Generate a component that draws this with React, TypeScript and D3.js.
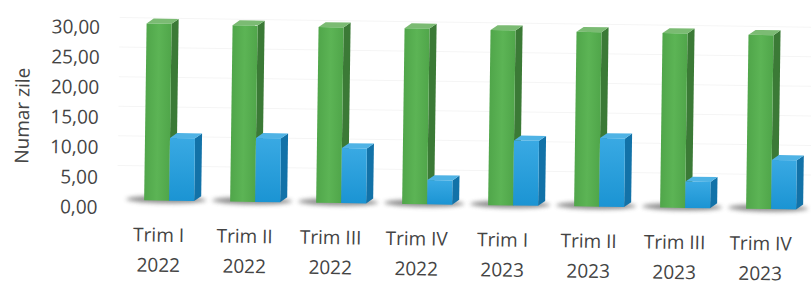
import React from 'react';
import * as d3 from 'd3';

const quarters = ['Trim I', 'Trim II', 'Trim III', 'Trim IV', 'Trim I', 'Trim II', 'Trim III', 'Trim IV'];
const years = ['2022', '2022', '2022', '2022', '2023', '2023', '2023', '2023'];
const greenValues = [29.9, 29.8, 29.7, 29.7, 29.6, 29.5, 29.5, 29.4];
const blueValues = [10.6, 10.8, 9.3, 4.1, 11.0, 11.6, 4.45, 8.3];
const yTicks = [0, 5, 10, 15, 20, 25, 30];

const W = 811;
const H = 281;
const FONT = '"Open Sans", "DejaVu Sans", sans-serif';
const TXT = '#444444';

// depth of the fake 3d
const DX = 7;
const DY = 5;
const BAR_W = 25;

const green = { front: '#50a64a', side: '#3b7a36', top: '#7bbb73', frontLight: '#5cb455' };
const blue = { front: '#1b94d3', side: '#1272a8', top: '#4fb3e5', frontLight: '#39a9e3' };

const App: React.FC = () => {
  const keys = quarters.map((q, i) => `${q} ${years[i]}`);
  const x = d3.scaleBand<string>().domain(keys).range([124, 124 + 86 * keys.length]);
  const y = d3.scaleLinear().domain([0, 30]).range([204, 26.5]);
  // tick labels sit on the back wall, a bit lower than the bar scale
  const yLab = d3.scaleLinear().domain([0, 30]).range([211.5, 31.5]);
  const base = y(0);

  const bar = (x0: number, v: number, c: typeof green, key: string) => {
    const yt = y(v);
    const x1 = x0 + BAR_W;
    const side = `${x1},${yt} ${x1 + DX},${yt - DY} ${x1 + DX},${base - DY} ${x1},${base}`;
    const top = `${x0},${yt} ${x0 + DX},${yt - DY} ${x1 + DX},${yt - DY} ${x1},${yt}`;
    return (
      <g key={key}>
        <polygon points={side} fill={c.side} />
        <polygon points={top} fill={c.top} />
        <rect x={x0} y={yt} width={BAR_W} height={base - yt} fill={`url(#grad-${c === green ? 'g' : 'b'})`} />
      </g>
    );
  };

  return (
    <svg width={W} height={H} style={{ position: 'absolute', left: 0, top: 0, background: '#fff' }}>
      <defs>
        <linearGradient id="grad-g" x1="0" y1="0" x2="1" y2="0">
          <stop offset="0" stopColor={green.front} />
          <stop offset="0.5" stopColor={green.frontLight} />
          <stop offset="1" stopColor={green.front} />
        </linearGradient>
        <linearGradient id="grad-b" x1="0" y1="0" x2="0" y2="1">
          <stop offset="0" stopColor={blue.frontLight} />
          <stop offset="1" stopColor={blue.front} />
        </linearGradient>
        <filter id="blur" x="-20%" y="-200%" width="140%" height="500%">
          <feGaussianBlur stdDeviation="2.2" />
        </filter>
      </defs>
      <g transform="rotate(0.8, 405, 140)">
        {/* faint back wall grid */}
        {yTicks.slice(1).map((t) => (
          <line key={t} x1={118} x2={W + 5} y1={y(t) - DY} y2={y(t) - DY} stroke="#f5f5f5" strokeWidth={1} />
        ))}

        {/* floor shadows */}
        {keys.map((k) => {
          const gx = (x(k) as number) + 21;
          return (
            <ellipse
              key={'s' + k}
              cx={gx + 22}
              cy={base - 1}
              rx={40}
              ry={3.5}
              fill="#6f6f6f"
              opacity={0.8}
              filter="url(#blur)"
            />
          );
        })}

        {keys.map((k, i) => {
          const gx = (x(k) as number) + 21;
          return (
            <g key={k}>
              {bar(gx, greenValues[i], green, 'g' + i)}
              {bar(gx + BAR_W, blueValues[i], blue, 'b' + i)}
            </g>
          );
        })}

        {/* y axis labels */}
        {yTicks.map((t) => (
          <text
            key={'yl' + t}
            x={98.5}
            y={yLab(t)}
            dy="0.35em"
            textAnchor="end"
            fontFamily={FONT}
            fontSize={19}
            fill={TXT}
          >
            {d3.format('.2f')(t).replace('.', ',')}
          </text>
        ))}

        <text
          transform={`translate(22, 121) rotate(-90)`}
          textAnchor="middle"
          dy="0.35em"
          fontFamily={FONT}
          fontSize={19}
          fill={TXT}
        >
          Numar zile
        </text>

        {/* x axis labels */}
        {keys.map((k, i) => {
          const cx = (x(k) as number) + 36;
          return (
            <text key={'xl' + k} textAnchor="middle" fontFamily={FONT} fontSize={19} fill={TXT}>
              <tspan x={cx} y={238.5} dy="0.35em">{quarters[i]}</tspan>
              <tspan x={cx} y={268.5} dy="0.35em">{years[i]}</tspan>
            </text>
          );
        })}
      </g>
    </svg>
  );
};

export default App;
